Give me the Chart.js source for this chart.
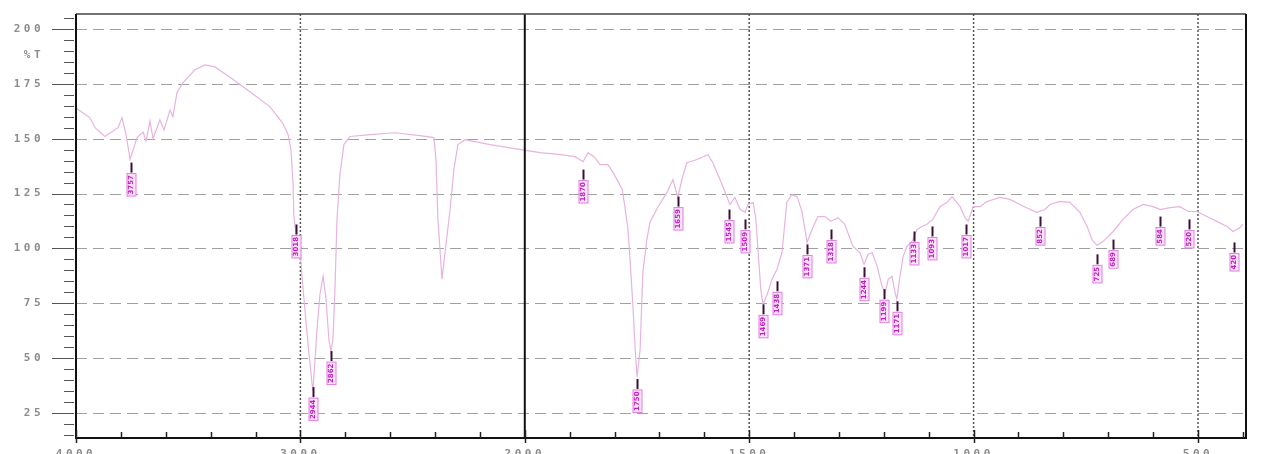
<!DOCTYPE html>
<html>
<head>
<meta charset="utf-8">
<script src="https://cdn.jsdelivr.net/npm/chart.js@4.4.1/dist/chart.umd.min.js"></script>
<style>
  html, body { margin: 0; padding: 0; background: #fff; }
  #wrap { width: 1263px; height: 454px; }
</style>
</head>
<body>
<div id="wrap"><canvas id="irChart" width="1263" height="454"></canvas></div>
<script>
// IR trace: wavenumber (cm-1) and %T
const waveNumbers = [
  4000, 3938, 3915, 3871, 3813, 3795, 3777, 3759, 3742, 3728, 3701, 3688, 3670, 3657, 3639, 3626,
  3608, 3581, 3568, 3550, 3523, 3470, 3425, 3381, 3314, 3225, 3135, 3078, 3055, 3042, 3033, 3029,
  3020, 3002, 2988, 2966, 2948, 2944, 2926, 2913, 2899, 2886, 2873, 2864, 2855, 2846, 2837, 2824,
  2806, 2779, 2690, 2578, 2467, 2405, 2396, 2387, 2378, 2369, 2351, 2333, 2316, 2298, 2266, 2155,
  2017, 1966, 1921, 1888, 1870, 1859, 1846, 1832, 1815, 1803, 1783, 1777, 1770, 1766, 1759, 1754,
  1750, 1743, 1737, 1728, 1721, 1703, 1683, 1670, 1659, 1650, 1639, 1616, 1592, 1581, 1565, 1549,
  1543, 1532, 1520, 1509, 1503, 1491, 1485, 1480, 1474, 1469, 1460, 1449, 1438, 1427, 1416, 1405,
  1393, 1382, 1371, 1360, 1347, 1331, 1318, 1302, 1287, 1269, 1253, 1244, 1235, 1226, 1215, 1204,
  1197, 1190, 1182, 1175, 1171, 1164, 1157, 1148, 1137, 1126, 1115, 1104, 1091, 1075, 1059, 1048,
  1030, 1019, 1012, 1001, 986, 970, 941, 919, 897, 874, 859, 841, 830, 808, 785, 763,
  747, 736, 725, 711, 689, 667, 645, 622, 600, 584, 562, 540, 522, 502, 480, 458,
  435, 422, 406, 400
];
const transmittance = [
  164, 159.5, 155, 151, 155, 159.5, 152, 140.5, 146, 150.5, 153, 149, 158, 150, 155, 158.6,
  154, 163, 160, 171, 175.5, 181.4, 183.6, 182.7, 178, 171.4, 164.5, 157, 151.8, 145, 130, 115,
  107, 99.5, 81.4, 56.4, 38.2, 35, 63, 79, 87.3, 77, 58.6, 53, 58.6, 81, 113, 133.6,
  147.3, 151, 151.8, 152.7, 151.4, 150.5, 140.5, 113, 99.5, 86, 101.8, 117.7, 136, 147.3, 149.5, 147.3,
  145, 143.6, 142.7, 141.8, 139.5, 143.6, 141.8, 138.2, 138.2, 134.5, 127, 119, 108.6, 96.4, 73.6, 54,
  41.4, 54, 89, 104, 112, 119, 125.5, 131.4, 123.2, 131.4, 139, 140.5, 142.7, 139, 131.4, 123.2,
  120, 123.2, 117.7, 116.4, 120, 120.9, 113.2, 98, 81, 74.5, 79, 86, 90.5, 98, 121, 124.5,
  123.6, 116.4, 102.7, 108.6, 114.5, 114.5, 112.3, 114, 111, 101, 98, 92.7, 97.3, 98, 92, 82.7,
  80, 86, 87.3, 80, 76.8, 87.3, 96.4, 101, 103.2, 108.6, 110, 111, 113.2, 119, 121, 123.6,
  119, 114, 112.3, 119, 119, 121.4, 123.2, 122.3, 120, 117.7, 116.4, 117.7, 120, 121.4, 121, 116.4,
  110, 104, 101.4, 103.2, 107.7, 113.2, 117.7, 120, 119, 117.7, 118.6, 119, 116.8, 116.8, 114.5, 112.3,
  110, 107.7, 109.5, 111
];

// picked peaks: wavenumber and the %T where each marker starts
const peakWaves = [3757, 3018, 2944, 2862, 1870, 1750, 1659, 1545, 1509, 1469, 1438, 1371, 1318,
  1244, 1199, 1171, 1133, 1093, 1017, 852, 725, 689, 584, 520, 420];
const peakTops = [139.1, 110.9, 36.8, 53.2, 135.9, 40.5, 123.6, 117.7, 113.2, 74.5, 85, 101.8, 108.6,
  91.4, 81.4, 75.9, 107.7, 110, 110.9, 114.5, 97.3, 104, 114.5, 113.2, 102.7];

const xLabelWaves = [4000, 3000, 2000, 1500, 1000, 500];
const dottedWaves = [3000, 1500, 1000, 500];
const yLabelValues = [25, 50, 75, 100, 125, 150, 175, 200];

// the x axis is stretched 2x below 2000 cm-1
function toU(w) { return w >= 2000 ? 4000 - w : 2000 + (2000 - w) * 2; }
function fromU(u) { return u <= 2000 ? 4000 - u : 2000 - (u - 2000) / 2; }

const majorU = xLabelWaves.map(toU);

const irPlugin = {
  id: 'irFrame',
  beforeDraw(chart) {
    chart.ctx.letterSpacing = '3.5px';
  },
  beforeDatasetsDraw(chart) {
    const { ctx, chartArea: a, scales: { x, y } } = chart;
    ctx.letterSpacing = '0px';
    ctx.save();
    ctx.strokeStyle = '#a0a0a0';
    ctx.lineWidth = 1;
    ctx.setLineDash([11, 6]);
    yLabelValues.forEach(v => {
      const py = Math.round(y.getPixelForValue(v)) + 0.5;
      ctx.beginPath(); ctx.moveTo(a.left, py); ctx.lineTo(a.right, py); ctx.stroke();
    });
    ctx.strokeStyle = '#555';
    ctx.lineWidth = 1.5;
    ctx.setLineDash([2, 2]);
    dottedWaves.forEach(w => {
      const px = x.getPixelForValue(toU(w));
      ctx.beginPath(); ctx.moveTo(px, a.top); ctx.lineTo(px, a.bottom); ctx.stroke();
    });
    ctx.restore();
  },
  afterDatasetsDraw(chart) {
    const { ctx, chartArea: a, scales: { x, y } } = chart;
    ctx.save();
    ctx.setLineDash([]);
    // 2000 divider
    ctx.strokeStyle = '#111';
    ctx.lineWidth = 2;
    const p2000 = x.getPixelForValue(toU(2000));
    ctx.beginPath(); ctx.moveTo(p2000, a.top); ctx.lineTo(p2000, a.bottom); ctx.stroke();

    // frame
    ctx.strokeStyle = '#444';
    ctx.lineWidth = 1.5;
    ctx.beginPath(); ctx.moveTo(a.left, a.top); ctx.lineTo(a.right, a.top); ctx.stroke();
    ctx.strokeStyle = '#111';
    ctx.lineWidth = 2;
    ctx.beginPath();
    ctx.moveTo(a.right, a.top); ctx.lineTo(a.right, a.bottom);
    ctx.lineTo(a.left, a.bottom); ctx.lineTo(a.left, a.top);
    ctx.stroke();

    // y ticks
    ctx.strokeStyle = '#555';
    ctx.lineWidth = 1;
    for (let v = 15; v <= 205; v += 5) {
      const py = Math.round(y.getPixelForValue(v)) + 0.5;
      const major = v % 25 === 0;
      ctx.beginPath();
      ctx.moveTo(major ? a.left - 24 : a.left - 12, py);
      ctx.lineTo(a.left - 2, py);
      ctx.stroke();
    }
    // x ticks
    ctx.strokeStyle = '#222';
    ctx.lineWidth = 1.5;
    for (let u = 0; u <= 5200; u += 200) {
      const px = Math.round(x.getPixelForValue(u)) + 0.5;
      const major = majorU.includes(u);
      ctx.beginPath();
      ctx.moveTo(px, major ? a.bottom - 8 : a.bottom - 6);
      ctx.lineTo(px, major ? a.bottom + 5 : a.bottom);
      ctx.stroke();
    }

    // peak markers and labels
    ctx.font = 'bold 7px "DejaVu Sans"';
    peakWaves.forEach((w, i) => {
      const px = Math.round(x.getPixelForValue(toU(w))) + 0.5;
      const py = y.getPixelForValue(peakTops[i]);
      ctx.strokeStyle = '#3a1038';
      ctx.lineWidth = 2;
      ctx.beginPath(); ctx.moveTo(px, py); ctx.lineTo(px, py + 10); ctx.stroke();
      const label = String(w);
      const len = ctx.measureText(label).width + 3;
      ctx.fillStyle = '#fbe3fa';
      ctx.fillRect(px - 4.5, py + 11, 9, len);
      ctx.strokeStyle = '#e27fe0';
      ctx.lineWidth = 1;
      ctx.strokeRect(px - 4.5, py + 11, 9, len);
      ctx.save();
      ctx.translate(px, py + 12.5);
      ctx.rotate(-Math.PI / 2);
      ctx.fillStyle = '#c21fc0';
      ctx.textAlign = 'right';
      ctx.textBaseline = 'middle';
      ctx.fillText(label, 0, 0);
      ctx.restore();
    });
    ctx.restore();
  }
};

const ctx = document.getElementById('irChart').getContext('2d');
const irChart = new Chart(ctx, {
  type: 'line',
  data: {
    datasets: [{
      data: waveNumbers.map((w, i) => ({ x: toU(w), y: transmittance[i] })),
      borderColor: '#e6b4df',
      borderWidth: 1.2,
      pointRadius: 0,
      tension: 0,
      fill: false
    }]
  },
  options: {
    responsive: false,
    animation: false,
    devicePixelRatio: 1,
    layout: { padding: { top: 14, right: 17, left: 0, bottom: 0 } },
    plugins: { legend: { display: false }, tooltip: { enabled: false } },
    scales: {
      x: {
        type: 'linear',
        min: 0,
        max: 5214,
        afterBuildTicks: scale => {
          const t = [];
          for (let u = 0; u <= 5200; u += 200) t.push({ value: u });
          scale.ticks = t;
        },
        afterFit: scale => {
          scale.height = 16;
          scale.paddingLeft = 0;
          scale.paddingRight = 0;
        },
        grid: { display: false },
        border: { display: false },
        ticks: {
          autoSkip: false,
          maxRotation: 0,
          padding: 2,
          color: '#8c8c8c',
          font: { family: 'DejaVu Sans Mono', size: 11, weight: 'bold' },
          callback: v => majorU.includes(v) ? String(fromU(v)) : ''
        }
      },
      y: {
        min: 13.6,
        max: 206.8,
        afterBuildTicks: scale => {
          scale.ticks = yLabelValues.map(v => ({ value: v })).concat([{ value: 188 }]);
        },
        afterFit: scale => {
          scale.width = 76;
          scale.paddingTop = 0;
          scale.paddingBottom = 0;
        },
        grid: { display: false },
        border: { display: false },
        ticks: {
          padding: 24,
          color: '#8c8c8c',
          font: { family: 'DejaVu Sans Mono', size: 11, weight: 'bold' },
          callback: v => v === 188 ? '%T' : String(v)
        }
      }
    }
  },
  plugins: [irPlugin]
});
</script>
</body>
</html>
